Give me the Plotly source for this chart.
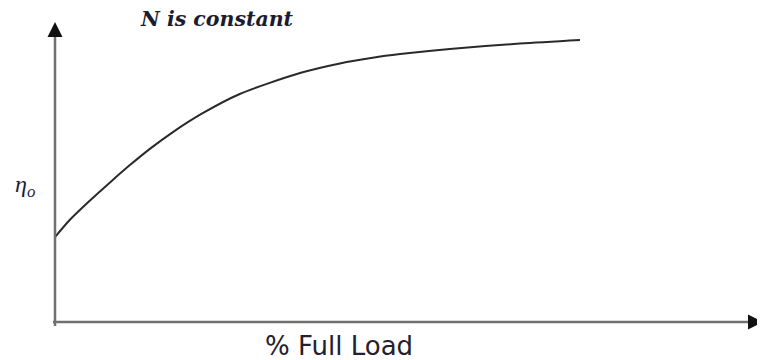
import plotly.graph_objects as go

# Efficiency curve (schematic): x = % of axis length, y = % of axis height
load_pct = [0, 2.1, 5, 7.9, 10.7, 13.6, 16.9, 21.1, 26.4, 35, 40.7, 45.4, 49.3, 56.4, 66.4, 75]
efficiency = [28.3, 34, 40.5, 46.6, 52.3, 57.8, 63.4, 69.6, 76, 83, 86.2, 88.1, 89.3, 91, 92.8, 94]

title_text = "N is constant"
y_label = "η<sub>o</sub>"
x_label = "% Full Load"

OFF = 8  # page body margin of the html page
W, H = 765 - OFF, 360 - OFF
# reference pixel geometry of the plot area
X0, X1, Y0, Y1 = 55, 755, 22, 322
L, R, T, B = X0 - OFF, W - (X1 - OFF), Y0 - OFF, H - (Y1 - OFF)
PW, PH = X1 - X0, Y1 - Y0


def px(x):
    return (x - X0) / PW


def py(y):
    return (Y1 - y) / PH


fig = go.Figure()
fig.add_trace(go.Scatter(
    x=load_pct, y=efficiency, mode="lines",
    line=dict(color="#2a2a2a", width=2, shape="spline", smoothing=0.8),
    hoverinfo="skip", showlegend=False,
))

axis_grey = "#707070"
# axis shafts
fig.add_shape(type="line", xref="paper", yref="paper",
              x0=px(55), y0=py(326), x1=px(55), y1=py(30),
              line=dict(color=axis_grey, width=2.5))
fig.add_shape(type="line", xref="paper", yref="paper",
              x0=px(53), y0=py(322), x1=px(755), y1=py(322),
              line=dict(color=axis_grey, width=2.5))
# arrow heads
fig.add_annotation(xref="paper", yref="paper", x=px(55), y=py(22), ax=0, ay=14,
                   text="", showarrow=True, arrowhead=2, arrowsize=1.5,
                   arrowwidth=2, arrowcolor="#111")
fig.add_annotation(xref="paper", yref="paper", x=px(763), y=py(322), ax=-14, ay=0,
                   text="", showarrow=True, arrowhead=2, arrowsize=1.5,
                   arrowwidth=2, arrowcolor="#111")

fig.add_annotation(xref="paper", yref="paper", x=px(217), y=py(19),
                   text=title_text, showarrow=False, xanchor="center", yanchor="middle",
                   font=dict(family="DejaVu Serif", size=20.5, color="#1c1c30",
                             weight="bold", style="italic"))
fig.add_annotation(xref="paper", yref="paper", x=px(25), y=py(186),
                   text=y_label, showarrow=False, xanchor="center", yanchor="middle",
                   font=dict(family="Liberation Serif", size=24, color="#1c1c40",
                             style="italic"))
fig.add_annotation(xref="paper", yref="paper", x=px(339), y=py(346),
                   text=x_label, showarrow=False, xanchor="center", yanchor="middle",
                   font=dict(family="DejaVu Sans", size=26, color="#24202e"))

fig.update_xaxes(visible=False, range=[0, 100], fixedrange=True)
fig.update_yaxes(visible=False, range=[0, 100], fixedrange=True)
fig.update_layout(
    width=W, height=H,
    margin=dict(l=L, r=R, t=T, b=B),
    paper_bgcolor="white", plot_bgcolor="white",
)

fig.write_html("out.html")
